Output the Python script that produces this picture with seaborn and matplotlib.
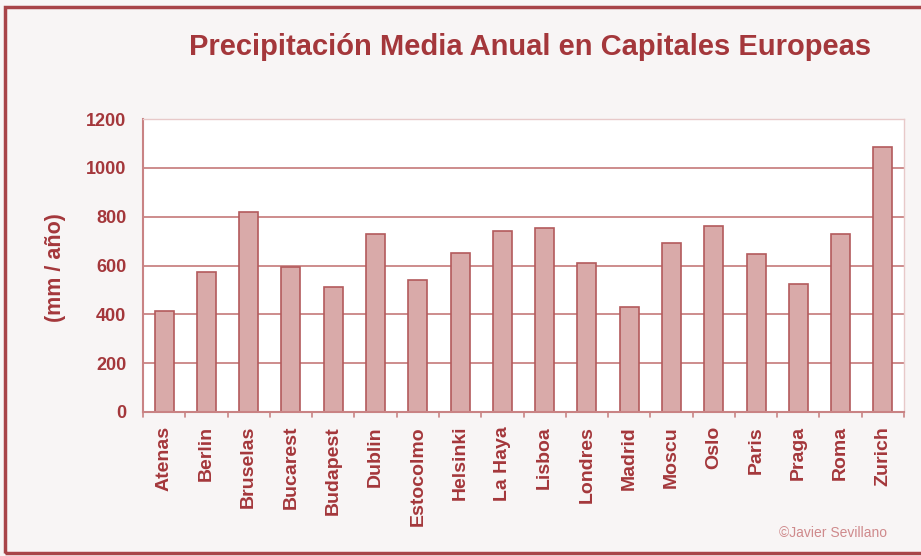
import matplotlib.pyplot as plt
import matplotlib.patches as patches
import seaborn as sns
import pandas as pd

# Datos
capitales = ['Atenas', 'Berlin', 'Bruselas', 'Bucarest', 'Budapest', 'Dublin',
             'Estocolmo', 'Helsinki', 'La Haya', 'Lisboa', 'Londres', 'Madrid',
             'Moscu', 'Oslo', 'Paris', 'Praga', 'Roma', 'Zurich']
precipitacion = [415, 575, 820, 595, 510, 730,
                 540, 650, 742, 754, 610, 432,
                 693, 760, 648, 525, 730, 1086]
y_ticks = [0, 200, 400, 600, 800, 1000, 1200]

df = pd.DataFrame({'Capital': capitales, 'Precipitacion': precipitacion})

dark_red = '#a4373b'
grid_red = '#c98384'
bar_fill = '#d9aaa9'
bar_edge = '#b35a5c'

sns.set_theme(style='white')
plt.rcParams['font.family'] = ['Liberation Sans', 'DejaVu Sans']

fig = plt.figure(figsize=(9.21, 5.56), dpi=100, facecolor='#f8f5f5')
ax = fig.add_axes([143 / 921, 1 - 412 / 556, (904 - 143) / 921, (412 - 119) / 556])
ax.set_facecolor('white')

sns.barplot(data=df, x='Capital', y='Precipitacion', color=bar_fill,
            edgecolor=bar_edge, linewidth=1.2, width=0.45, saturation=1, ax=ax)

ax.set_ylim(0, 1200)
ax.set_xlim(-0.5, len(capitales) - 0.5)
ax.set_yticks(y_ticks)
ax.set_yticklabels([str(v) for v in y_ticks], fontsize=13, fontweight='bold', color=dark_red)
ax.set_xticks(range(len(capitales)))
ax.set_xticklabels(capitales, rotation=90, fontsize=14, fontweight='bold', color=dark_red)
ax.tick_params(axis='x', length=0, pad=10)
ax.tick_params(axis='y', length=5, color=grid_red, width=1.2, pad=7)

# marcas entre categorias
for i in range(len(capitales) + 1):
    ax.plot([i - 0.5, i - 0.5], [0, -20], color=grid_red, lw=1.2, clip_on=False)

ax.yaxis.grid(True, color=grid_red, linewidth=1.3)
ax.set_axisbelow(True)
for side in ['top', 'right']:
    ax.spines[side].set_color('#e8c9c9')
    ax.spines[side].set_linewidth(1)
for side in ['left', 'bottom']:
    ax.spines[side].set_color(grid_red)
    ax.spines[side].set_linewidth(1.5)

ax.set_xlabel('')
ax.set_ylabel('(mm / año)', fontsize=15.5, fontweight='bold', color=dark_red)
ax.yaxis.set_label_coords((66 - 143) / 761, (412 - 268) / 293)

fig.text(530 / 921, 1 - 47 / 556, 'Precipitación Media Anual en Capitales Europeas',
         ha='center', va='center', fontsize=21, fontweight='bold', color=dark_red)
fig.text(833 / 921, 1 - 533 / 556, '©Javier Sevillano', ha='center', va='center',
         fontsize=10, color='#cf8a8c')

fig.patches.append(patches.Rectangle((5 / 921, 3 / 556), 930 / 921, 546 / 556,
                                     transform=fig.transFigure, fill=False,
                                     edgecolor='#a84448', linewidth=2.5))

fig.savefig('out.png', dpi=100, facecolor=fig.get_facecolor())
